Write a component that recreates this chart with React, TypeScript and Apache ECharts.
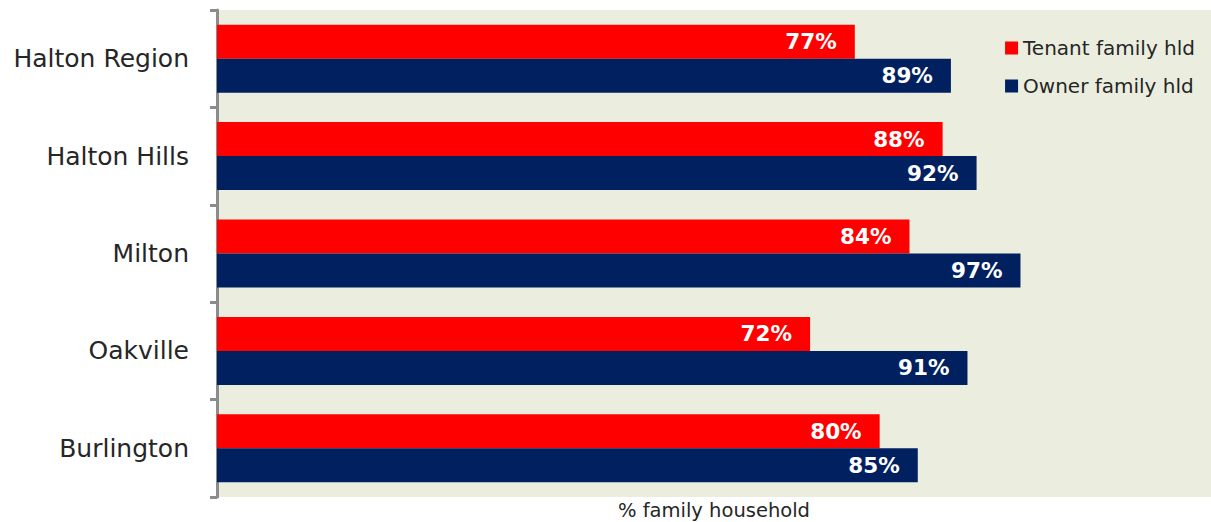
import React, { useEffect, useRef } from "react";
import * as echarts from "echarts";

const categories = ["Halton Region", "Halton Hills", "Milton", "Oakville", "Burlington"];
const tenantValues = [77, 87.6, 83.6, 71.6, 80];
const ownerValues = [88.6, 91.7, 97, 90.6, 84.6];
const seriesNames = ["Tenant family hld", "Owner family hld"];
const axisName = "% family household";

const FONT = "'DejaVu Sans', 'Noto Sans', sans-serif";

export default function App() {
  const ref = useRef<HTMLDivElement>(null);
  useEffect(() => {
    document.body.style.margin = "0";
    const chart = echarts.init(ref.current!, undefined, { renderer: "svg" });
    const label = {
      show: true,
      position: "insideRight",
      distance: 18,
      color: "#ffffff",
      fontWeight: "bold",
      fontSize: 21.5,
      fontFamily: FONT,
      formatter: (p: any) => Math.round(p.value) + "%",
    };
    chart.setOption({
      animation: false,
      textStyle: { fontFamily: FONT },
      grid: {
        left: 217,
        right: 0,
        top: 10,
        bottom: 25,
        show: true,
        backgroundColor: "#EBEEDF",
        borderWidth: 0,
        outerBoundsMode: "none",
        containLabel: false,
      },
      legend: {
        orient: "vertical",
        right: 11,
        top: 33,
        itemWidth: 13,
        itemHeight: 13,
        itemGap: 18,
        icon: "rect",
        textStyle: { fontSize: 20, color: "#262626", fontFamily: FONT },
        data: seriesNames,
      },
      xAxis: {
        type: "value",
        min: 0,
        max: 120,
        axisLine: { show: false },
        axisTick: { show: false },
        axisLabel: { show: false },
        splitLine: { show: false },
        name: axisName,
        nameLocation: "middle",
        nameGap: 3,
        nameTextStyle: {
          fontSize: 19.5,
          color: "#262626",
          fontFamily: FONT,
          verticalAlign: "top",
        },
      },
      yAxis: {
        type: "category",
        inverse: true,
        data: categories,
        axisLine: { show: true, lineStyle: { color: "#8C8C8C", width: 3 } },
        axisTick: { show: true, length: 7, lineStyle: { color: "#8C8C8C", width: 3 } },
        axisLabel: { margin: 28, fontSize: 25, color: "#262626", fontFamily: FONT },
      },
      series: [
        {
          name: seriesNames[0],
          type: "bar",
          data: tenantValues,
          barWidth: 34,
          barGap: "0%",
          itemStyle: { color: "#FF0000" },
          label,
        },
        {
          name: seriesNames[1],
          type: "bar",
          data: ownerValues,
          barWidth: 34,
          barGap: "0%",
          itemStyle: { color: "#002060" },
          label,
        },
      ],
    });
    return () => chart.dispose();
  }, []);
  return <div ref={ref} style={{ width: 1211, height: 522 }} />;
}
